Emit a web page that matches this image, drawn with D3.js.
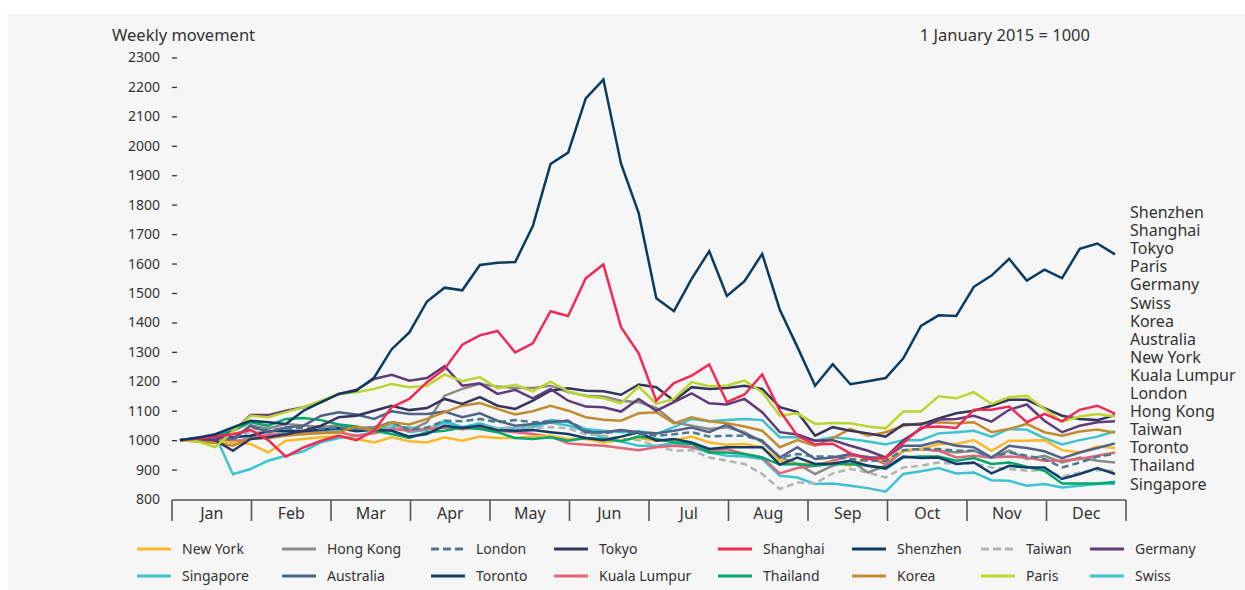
<!DOCTYPE html>
<html>
<head>
<meta charset="utf-8">
<script src="https://cdn.jsdelivr.net/npm/d3@7"></script>
<style>
  body { margin: 0; background: #fff; }
  svg { display: block; font-family: "Noto Sans", sans-serif; }
</style>
</head>
<body>
<div id="chart"></div>
<script>
// weekly index values, 1 January 2015 = 1000 (54 weekly points)
const months = ["Jan","Feb","Mar","Apr","May","Jun","Jul","Aug","Sep","Oct","Nov","Dec"];
const yTicks = [800,900,1000,1100,1200,1300,1400,1500,1600,1700,1800,1900,2000,2100,2200,2300];

const newYork = [1000,1000,995,992,987,958,998,1004,1010,1015,1004,992,1010,
  996,992,1010,998,1012,1007,1007,1012,1015,1004,1004,992,1000,1007,
  998,1000,1012,992,984,987,976,930,919,919,924,913,941,
  930,964,970,987,987,1000,964,998,998,1000,966,958,978,973];
const hongKong = [1000,1005,1010,1000,1050,1040,1055,1050,1045,1050,1040,1045,1060,
  1032,1061,1151,1174,1191,1182,1177,1177,1185,1163,1151,1148,1134,1129,
  1110,1061,1049,1038,1044,1027,993,942,919,885,913,930,890,
  913,964,970,964,958,964,941,964,936,947,924,941,930,924];
const london = [1000,1005,1010,1000,1043,1032,1041,1040,1038,1043,1038,1035,1064,
  1034,1043,1066,1064,1072,1061,1068,1061,1064,1066,1032,1023,1032,1021,
  1015,1020,1027,1012,1015,1015,998,941,953,944,944,936,930,
  930,966,970,970,964,964,941,958,947,936,907,924,944,953];
const tokyo = [1000,1005,1000,964,1004,1010,1020,1032,1049,1078,1083,1100,1117,
  1102,1109,1140,1123,1146,1117,1106,1134,1168,1176,1168,1166,1154,1189,
  1180,1134,1180,1174,1177,1185,1174,1112,1095,1015,1044,1032,1023,
  1012,1053,1053,1074,1091,1100,1117,1137,1137,1109,1083,1072,1068,1085];
const shanghai = [1000,1005,1012,1020,1035,1000,944,975,998,1015,1000,1032,1112,
  1140,1197,1242,1324,1356,1371,1298,1329,1438,1422,1550,1597,1384,1295,
  1134,1194,1219,1257,1129,1155,1223,1100,1015,985,988,955,935,
  940,990,1043,1046,1041,1103,1103,1114,1061,1089,1064,1103,1117,1090];
const shenzhen = [1000,1008,1020,1043,1066,1061,1055,1100,1129,1157,1168,1212,1309,
  1366,1471,1518,1509,1595,1603,1605,1727,1938,1977,2161,2225,1939,1771,
  1482,1438,1548,1642,1490,1540,1633,1443,1316,1185,1258,1190,1200,
  1211,1278,1388,1424,1422,1521,1559,1616,1542,1579,1550,1650,1668,1631];
const taiwan = [1000,1003,1008,1000,1030,1025,1035,1030,1040,1045,1035,1040,1050,
  1030,1040,1050,1035,1050,1040,1045,1040,1045,1040,1020,1015,1005,1000,
  981,964,966,941,930,919,885,834,856,853,887,902,890,
  873,907,913,924,919,921,907,902,896,898,876,890,898,896];
const germany = [1000,1005,1000,1030,1085,1085,1100,1112,1129,1157,1171,1208,1222,
  1202,1211,1251,1185,1193,1157,1171,1142,1174,1134,1114,1112,1097,1140,
  1100,1129,1159,1125,1121,1140,1095,1027,1019,998,1000,981,964,
  941,1000,1038,1070,1072,1083,1063,1103,1121,1066,1027,1049,1061,1064];
const singapore = [1000,1005,1015,884,902,930,947,962,993,1007,1015,1027,1055,
  1027,1035,1060,1045,1055,1040,1040,1045,1060,1050,1030,1010,995,981,
  981,989,976,958,947,944,936,879,873,851,853,845,837,
  825,885,894,905,887,890,864,862,845,851,839,845,851,852];
const australia = [1000,1008,1015,1005,1049,1027,1043,1049,1083,1095,1087,1072,1098,
  1089,1089,1097,1078,1091,1066,1049,1055,1061,1066,1027,1027,1034,1027,
  1023,1032,1043,1027,1053,1021,998,941,976,936,941,953,941,
  941,981,981,996,981,976,941,981,973,962,939,958,973,989];
const toronto = [1000,1008,1012,1010,1015,1030,1032,1030,1035,1040,1030,1035,1032,
  1012,1021,1049,1041,1049,1034,1032,1034,1027,1021,1007,1000,1012,1027,
  998,1004,992,970,976,976,976,917,941,919,921,930,913,
  905,944,939,941,919,924,887,913,907,907,868,885,905,885];
const kualaLumpur = [1000,1000,1000,995,1005,1019,1020,1027,1025,1027,1015,1023,1038,
  1032,1038,1043,1038,1043,1032,1027,1021,1012,989,984,981,973,966,
  976,981,976,964,970,953,941,887,905,913,930,947,944,
  919,964,970,964,941,947,941,944,941,930,930,936,947,958];
const thailand = [1000,1004,1015,1032,1061,1049,1072,1075,1068,1053,1046,1032,1021,
  1007,1027,1032,1043,1038,1027,1007,1004,1010,998,1007,1004,996,1012,
  1004,993,987,958,958,953,941,917,919,913,919,919,913,
  902,941,944,944,930,939,919,924,910,896,853,853,853,858];
const korea = [1000,995,990,981,1004,1007,1015,1021,1023,1027,1046,1032,1061,
  1053,1072,1095,1117,1126,1106,1087,1098,1117,1100,1078,1069,1066,1091,
  1095,1057,1078,1064,1057,1046,1032,976,1000,981,1007,1038,1015,
  1027,1049,1057,1061,1057,1061,1027,1038,1055,1027,1015,1029,1036,1025];
const paris = [1000,995,976,1030,1083,1078,1095,1112,1134,1157,1163,1174,1191,
  1180,1185,1223,1200,1214,1176,1188,1166,1199,1166,1149,1142,1125,1182,
  1123,1140,1197,1183,1186,1202,1163,1083,1091,1055,1058,1057,1046,
  1040,1097,1097,1149,1142,1163,1123,1146,1151,1106,1063,1080,1089,1080];
const swiss = [1000,1003,1010,990,1010,1015,1025,1020,1030,1035,1040,1035,1045,
  1043,1035,1066,1043,1057,1038,1041,1049,1068,1061,1038,1032,1027,1030,
  1021,1044,1072,1064,1068,1072,1068,1010,1010,998,1010,1004,995,
  985,1000,1000,1023,1027,1032,1012,1038,1035,1007,985,1000,1012,1030];

// order of the legend (two rows of eight)
const legendOrder = ["New York","Hong Kong","London","Tokyo","Shanghai","Shenzhen","Taiwan","Germany",
  "Singapore","Australia","Toronto","Kuala Lumpur","Thailand","Korea","Paris","Swiss"];
// labels listed at the right of the plot
const endLabels = ["Shenzhen","Shanghai","Tokyo","Paris","Germany","Swiss","Korea","Australia",
  "New York","Kuala Lumpur","London","Hong Kong","Taiwan","Toronto","Thailand","Singapore"];

const series = [
  {name:"Singapore", values:singapore, color:"#3cc2d0"},
  {name:"Swiss", values:swiss, color:"#3cc2d0"},
  {name:"Taiwan", values:taiwan, color:"#b4b4b4", dash:"7,4"},
  {name:"Hong Kong", values:hongKong, color:"#8a8a8a"},
  {name:"Kuala Lumpur", values:kualaLumpur, color:"#e0667c"},
  {name:"New York", values:newYork, color:"#fbb829"},
  {name:"Thailand", values:thailand, color:"#00a86a"},
  {name:"Toronto", values:toronto, color:"#123d69"},
  {name:"London", values:london, color:"#4b7b8f", dash:"7,4"},
  {name:"Australia", values:australia, color:"#4f6389"},
  {name:"Korea", values:korea, color:"#c18c2f"},
  {name:"Tokyo", values:tokyo, color:"#35355f"},
  {name:"Germany", values:germany, color:"#5f3b7b"},
  {name:"Paris", values:paris, color:"#bcd531"},
  {name:"Shanghai", values:shanghai, color:"#ef2b55"},
  {name:"Shenzhen", values:shenzhen, color:"#0b3b5f"}
];
const byName = new Map(series.map(s => [s.name, s]));

const W = 1245, H = 590;
const textColor = "#333";

const svg = d3.select("#chart").append("svg")
    .attr("width", W)
    .attr("height", H);

// panel background
svg.append("rect")
    .attr("x", 7).attr("y", 14)
    .attr("width", W - 7).attr("height", H - 14)
    .attr("fill", "#f6f6f6");

// scales
const x = d3.scaleLinear().domain([0, shenzhen.length - 1]).range([180, 1115]);
const y = d3.scaleLinear().domain([800, 2300]).range([499, 57.5]);
const xMonth = d3.scaleBand().domain(months).range([172, 1126]);

// y axis: labels and short dashes, no spine
const yAxis = svg.append("g")
    .attr("transform", "translate(177,0)")
    .call(d3.axisLeft(y).tickValues(yTicks).tickFormat(d3.format("d")).tickSize(5).tickPadding(12));
yAxis.select(".domain").remove();
yAxis.selectAll("line").attr("stroke", "#333").attr("stroke-width", 1.3);
yAxis.selectAll("text")
    .attr("fill", textColor)
    .style("font-size", "14px")
    .style("font-family", "'Noto Sans', sans-serif");
yAxis.selectAll(".tick").filter(d => d === 800).select("line").remove();

// x axis: baseline with month boxes
const xAxis = svg.append("g");
xAxis.append("line")
    .attr("x1", 172).attr("x2", 1126)
    .attr("y1", 500).attr("y2", 500)
    .attr("stroke", "#555").attr("stroke-width", 1.6);
const bounds = months.map(m => xMonth(m)).concat([xMonth.range()[1]]);
xAxis.selectAll("line.sep")
  .data(bounds)
  .join("line")
    .attr("class", "sep")
    .attr("x1", d => d).attr("x2", d => d)
    .attr("y1", 500).attr("y2", 521)
    .attr("stroke", "#555").attr("stroke-width", 1.6);
xAxis.selectAll("text")
  .data(months)
  .join("text")
    .attr("x", d => xMonth(d) + xMonth.bandwidth() / 2)
    .attr("y", 519)
    .attr("text-anchor", "middle")
    .attr("fill", textColor)
    .style("font-size", "16px")
    .text(d => d);

// titles
svg.append("text")
    .attr("x", 112).attr("y", 41)
    .attr("fill", textColor)
    .style("font-size", "16.5px")
    .text("Weekly movement");
svg.append("text")
    .attr("x", 1090).attr("y", 41)
    .attr("text-anchor", "end")
    .attr("fill", textColor)
    .style("font-size", "16.5px")
    .text("1 January 2015 = 1000");

// lines
const line = d3.line()
    .x((d, i) => x(i))
    .y(d => y(d));

svg.append("g")
  .selectAll("path")
  .data(series)
  .join("path")
    .attr("d", d => line(d.values))
    .attr("fill", "none")
    .attr("stroke", d => d.color)
    .attr("stroke-width", 2.5)
    .attr("stroke-linejoin", "miter")
    .attr("stroke-dasharray", d => d.dash || null);

// list of names at the right
svg.append("g")
  .selectAll("text")
  .data(endLabels)
  .join("text")
    .attr("x", 1130)
    .attr("y", (d, i) => 218 + i * 18.1)
    .attr("fill", textColor)
    .style("font-size", "16px")
    .text(d => d);

// legend
const legendCols = [137, 282, 431, 554, 718, 852, 981, 1090];
const legend = svg.append("g")
  .selectAll("g")
  .data(legendOrder)
  .join("g")
    .attr("transform", (d, i) => `translate(${legendCols[i % 8]},${i < 8 ? 549 : 576})`);
legend.append("line")
    .attr("x1", 0).attr("x2", 34)
    .attr("stroke", d => byName.get(d).color)
    .attr("stroke-width", 3)
    .attr("stroke-dasharray", d => byName.get(d).dash ? "8,4" : null);
legend.append("text")
    .attr("x", 45).attr("y", 5)
    .attr("fill", textColor)
    .style("font-size", "14px")
    .text(d => d);
</script>
</body>
</html>
